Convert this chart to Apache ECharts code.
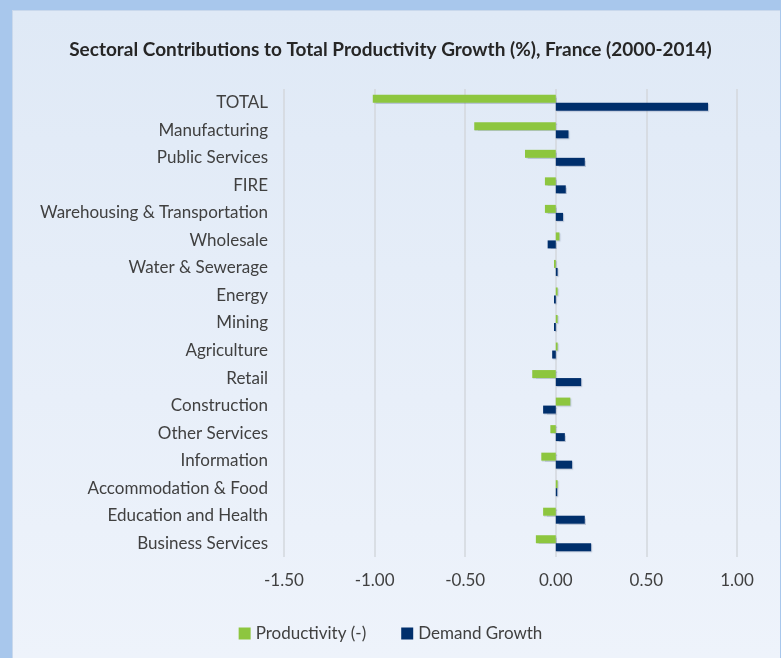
<!DOCTYPE html>
<html><head><meta charset="utf-8">
<script src="https://cdn.jsdelivr.net/npm/echarts@6/dist/echarts.min.js"></script>
<style>
html,body{margin:0;padding:0;width:781px;height:658px;overflow:hidden;background:#a8c7ec;}
#panel{position:absolute;left:12px;top:10px;width:768px;height:648px;background:linear-gradient(to bottom,#dfe9f6,#eef3fb);border-left:1px solid #c9d8ec;border-top:1px solid #c9d8ec;box-sizing:border-box;}
#chart{position:absolute;left:0;top:0;width:781px;height:658px;}
</style></head>
<body><div id="panel"></div><div id="chart"></div>
<script>
const categories = ["TOTAL","Manufacturing","Public Services","FIRE","Warehousing & Transportation","Wholesale","Water & Sewerage","Energy","Mining","Agriculture","Retail","Construction","Other Services","Information","Accommodation & Food","Education and Health","Business Services"];
const productivity = [-1.01,-0.45,-0.17,-0.06,-0.06,0.02,-0.01,0.01,0.01,0.01,-0.13,0.08,-0.03,-0.08,0.01,-0.07,-0.11];
const demandGrowth = [0.84,0.07,0.16,0.055,0.04,-0.045,0.01,-0.01,-0.01,-0.02,0.14,-0.07,0.05,0.09,0.008,0.16,0.195];
const xTicks = [-1.5,1.0,0.5];
const font = "Lato, sans-serif";
const chart = echarts.init(document.getElementById('chart'));
chart.setOption({
  backgroundColor: 'transparent',
  animation: false,
  title: {text: 'Sectoral Contributions to Total Productivity Growth (%), France (2000-2014)', left: 'center', top: 35,
    textStyle: {fontFamily: font, fontWeight: 'bold', fontSize: 19, color: '#262626'}},
  legend: {top: 620, left: 'center', itemWidth: 12, itemHeight: 12, itemGap: 35,
    textStyle: {fontFamily: font, fontSize: 17, color: '#404040'}, icon: 'rect',
    data: ['Productivity (-)','Demand Growth']},
  grid: {left: 284, right: 44, top: 89, bottom: 101, containLabel: false},
  xAxis: {type: 'value', min: xTicks[0], max: xTicks[1], interval: xTicks[2],
    axisLine: {show: false}, axisTick: {show: false},
    axisLabel: {formatter: v => v.toFixed(2), fontFamily: font, fontSize: 17, color: '#404040', margin: 15},
    splitLine: {show: true, lineStyle: {color: '#d3d7dd', width: 1.5}}},
  yAxis: {type: 'category', data: categories, inverse: true,
    axisLine: {show: false}, axisTick: {show: false},
    axisLabel: {fontFamily: font, fontSize: 17, color: '#404040', margin: 16, padding: [5,0,0,0]}},
  series: [
    {name: 'Productivity (-)', type: 'bar', data: productivity, barWidth: 8, barGap: '0%',
     itemStyle: {color: '#8dc63f', shadowColor: 'rgba(60,80,120,0.25)', shadowBlur: 1, shadowOffsetX: 1, shadowOffsetY: 1}},
    {name: 'Demand Growth', type: 'bar', data: demandGrowth, barWidth: 8, barGap: '0%',
     itemStyle: {color: '#002f6c', shadowColor: 'rgba(60,80,120,0.25)', shadowBlur: 1, shadowOffsetX: 1, shadowOffsetY: 1}}
  ]
});
</script></body></html>
